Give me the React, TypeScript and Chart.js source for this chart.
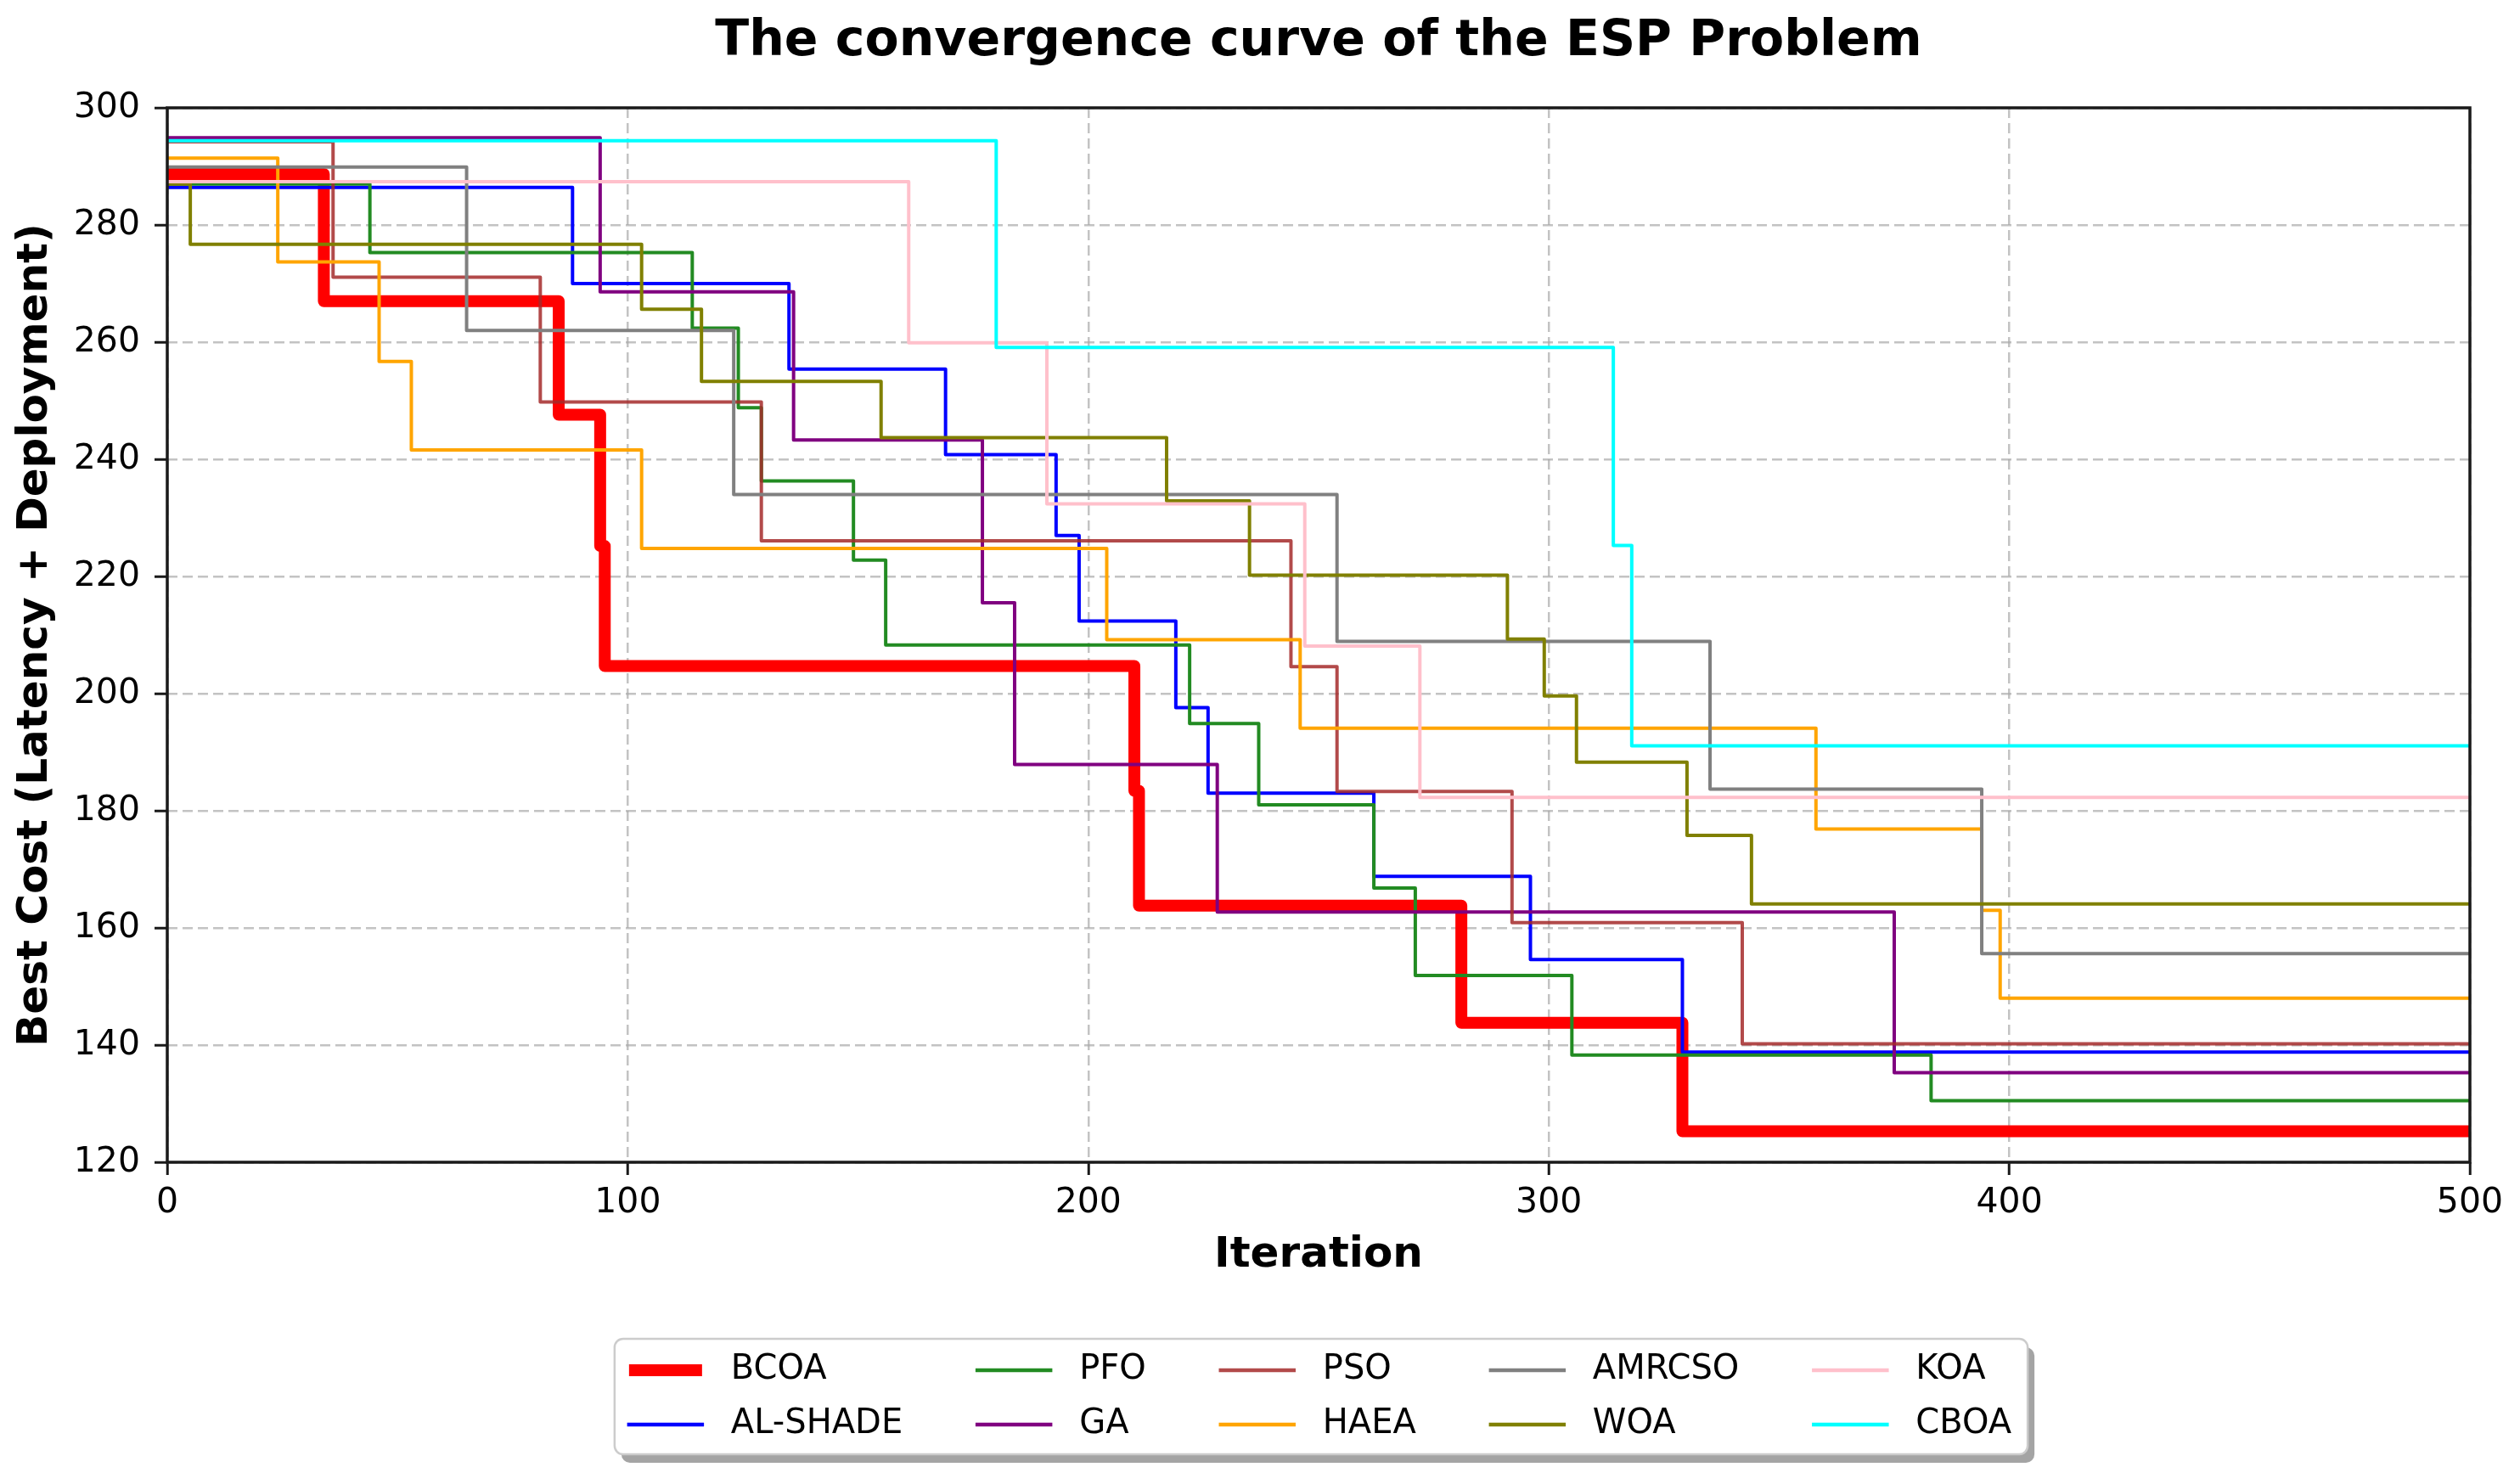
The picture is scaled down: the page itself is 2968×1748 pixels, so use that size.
import React, { useEffect, useRef } from "react";
import { Chart, registerables } from "chart.js";

Chart.register(...registerables);

const chartTitle = "The convergence curve of the ESP Problem";
const xTitle = "Iteration";
const yTitle = "Best Cost (Latency + Deployment)";

const algorithms = ["BCOA", "AL-SHADE", "PFO", "GA", "PSO", "HAEA", "AMRCSO", "WOA", "KOA", "CBOA"];
const colors = [
  "#ff0000",
  "#0000ff",
  "#228b22",
  "#800080",
  "rgba(165, 42, 42, 0.85)",
  "#ffa500",
  "#808080",
  "#808000",
  "#ffc0cb",
  "#00ffff",
];

// iterations where the best cost improves, and the cost reached there
const bcoaIter = [0, 34, 85, 94, 95, 210, 211, 281, 329, 500];
const bcoaCost = [288.7, 267.0, 247.6, 225.2, 204.7, 183.4, 163.8, 143.8, 125.3, 125.3];

const alshadeIter = [0, 88, 135, 169, 193, 198, 219, 226, 262, 296, 329, 500];
const alshadeCost = [286.4, 270.0, 255.4, 240.8, 227.0, 212.4, 197.6, 183.0, 168.8, 154.6, 138.8, 138.8];

const pfoIter = [0, 44, 114, 124, 129, 149, 156, 222, 237, 262, 271, 305, 383, 500];
const pfoCost = [287.0, 275.3, 262.4, 248.8, 236.3, 222.8, 208.3, 194.9, 181.0, 166.8, 151.9, 138.3, 130.5, 130.5];

const gaIter = [0, 94, 136, 177, 184, 228, 375, 500];
const gaCost = [294.9, 268.6, 243.3, 215.5, 187.9, 162.7, 135.3, 135.3];

const psoIter = [0, 36, 81, 129, 244, 254, 292, 342, 500];
const psoCost = [294.2, 271.1, 249.8, 226.1, 204.6, 183.3, 160.9, 140.2, 140.2];

const haeaIter = [0, 24, 46, 53, 103, 204, 246, 358, 394, 398, 500];
const haeaCost = [291.4, 273.7, 256.7, 241.6, 224.8, 209.2, 194.1, 176.9, 163.0, 148.0, 148.0];

const amrcsoIter = [0, 65, 123, 254, 335, 394, 500];
const amrcsoCost = [289.9, 262.0, 234.0, 208.9, 183.7, 155.6, 155.6];

const woaIter = [0, 5, 103, 116, 155, 217, 235, 291, 299, 306, 330, 344, 500];
const woaCost = [287.0, 276.7, 265.6, 253.3, 243.7, 232.9, 220.2, 209.3, 199.6, 188.3, 175.8, 164.1, 164.1];

const koaIter = [0, 161, 191, 247, 272, 500];
const koaCost = [287.4, 259.9, 232.4, 208.1, 182.3, 182.3];

const cboaIter = [0, 180, 314, 318, 500];
const cboaCost = [294.4, 259.1, 225.3, 191.1, 191.1];

const seriesIter = [bcoaIter, alshadeIter, pfoIter, gaIter, psoIter, haeaIter, amrcsoIter, woaIter, koaIter, cboaIter];
const seriesCost = [bcoaCost, alshadeCost, pfoCost, gaCost, psoCost, haeaCost, amrcsoCost, woaCost, koaCost, cboaCost];

const xMin = 0;
const xMax = 500;
const xStep = 100;
const yMin = 120;
const yMax = 300;
const yStep = 20;

const FONT = "'DejaVu Sans', sans-serif";

// title, four spines and the matplotlib-like legend (column-major, 5 columns)
const decorPlugin = {
  id: "decor",
  afterDraw(chart: Chart) {
    const { ctx, chartArea } = chart;
    const { left, right, top, bottom } = chartArea;
    const cx = (left + right) / 2;

    ctx.save();
    ctx.strokeStyle = "#1a1a1a";
    ctx.lineWidth = 3.5;
    ctx.setLineDash([]);
    ctx.strokeRect(left, top, right - left, bottom - top);

    ctx.fillStyle = "#000";
    ctx.font = `bold 58.5px ${FONT}`;
    ctx.textAlign = "center";
    ctx.textBaseline = "alphabetic";
    ctx.fillText(chartTitle, cx, 65);

    ctx.font = `40px ${FONT}`;
    const nCols = 5;
    const handleLen = 86;
    const textPad = 34;
    const colGap = 88;
    const padL = 17;
    const padR = 19;
    const colW: number[] = [];
    for (let c = 0; c < nCols; c++) {
      const a = ctx.measureText(algorithms[c * 2]).width;
      const b = ctx.measureText(algorithms[c * 2 + 1]).width;
      colW.push(Math.max(a, b));
    }
    let contentW = colGap * (nCols - 1);
    colW.forEach((w) => (contentW += handleLen + textPad + w));
    const boxW = padL + contentW + padR;
    const boxH = 136;
    const boxX = cx + 3 - boxW / 2;
    const boxY = 1577;

    ctx.fillStyle = "rgba(90, 90, 90, 0.55)";
    ctx.beginPath();
    ctx.roundRect(boxX + 8, boxY + 10, boxW, boxH, 10);
    ctx.fill();
    ctx.fillStyle = "#fff";
    ctx.strokeStyle = "#cccccc";
    ctx.lineWidth = 2.5;
    ctx.beginPath();
    ctx.roundRect(boxX, boxY, boxW, boxH, 10);
    ctx.fill();
    ctx.stroke();

    const rowY = [boxY + 37, boxY + 101];
    let hx = boxX + padL;
    for (let c = 0; c < nCols; c++) {
      for (let r = 0; r < 2; r++) {
        const i = c * 2 + r;
        ctx.strokeStyle = colors[i];
        ctx.lineWidth = i === 0 ? 14 : 4.5;
        ctx.lineCap = "square";
        ctx.beginPath();
        ctx.moveTo(hx + (i === 0 ? 7 : 0), rowY[r]);
        ctx.lineTo(hx + handleLen - (i === 0 ? 7 : 0), rowY[r]);
        ctx.stroke();
        ctx.fillStyle = "#000";
        ctx.textAlign = "left";
        ctx.textBaseline = "middle";
        ctx.fillText(algorithms[i], hx + handleLen + textPad, rowY[r]);
      }
      hx += handleLen + textPad + colW[c] + colGap;
    }
    ctx.restore();
  },
};

const App = () => {
  const canvasRef = useRef<HTMLCanvasElement>(null);
  const chartRef = useRef<Chart | null>(null);

  useEffect(() => {
    if (!canvasRef.current) return;
    if (chartRef.current) chartRef.current.destroy();

    const datasets = algorithms.map((name, i) => ({
      label: name,
      data: seriesIter[i].map((x, k) => ({ x, y: seriesCost[i][k] })),
      borderColor: colors[i],
      backgroundColor: colors[i],
      borderWidth: i === 0 ? 14 : 4,
      stepped: "before" as const,
      pointRadius: 0,
      fill: false,
      borderJoinStyle: "round" as const,
      order: algorithms.length - i,
    }));

    chartRef.current = new Chart(canvasRef.current, {
      type: "line",
      data: { datasets },
      plugins: [decorPlugin],
      options: {
        responsive: false,
        animation: false,
        layout: { padding: { top: 127, right: 59, left: 0, bottom: 0 } },
        plugins: {
          legend: { display: false },
          title: { display: false },
          tooltip: { enabled: false },
        },
        scales: {
          x: {
            type: "linear",
            min: xMin,
            max: xMax,
            ticks: { stepSize: xStep, color: "#000", font: { family: FONT, size: 41 }, padding: 9 },
            grid: {
              color: "rgba(170, 170, 170, 0.7)",
              lineWidth: 2.5,
              tickColor: "#1a1a1a",
              tickLength: 15,
              tickWidth: 3,
            },
            border: { display: false, dash: [12, 6] },
            title: {
              display: true,
              text: xTitle,
              color: "#000",
              font: { family: FONT, size: 50, weight: "bold", lineHeight: 1.2 },
              padding: { top: 0, bottom: 239 },
            },
            afterFit: (s: any) => {
              s.height = 379;
            },
          },
          y: {
            type: "linear",
            min: yMin,
            max: yMax,
            ticks: { stepSize: yStep, color: "#000", font: { family: FONT, size: 41 }, padding: 17 },
            grid: {
              color: "rgba(170, 170, 170, 0.7)",
              lineWidth: 2.5,
              tickColor: "#1a1a1a",
              tickLength: 15,
              tickWidth: 3,
            },
            border: { display: false, dash: [12, 6] },
            title: {
              display: true,
              text: yTitle,
              color: "#000",
              font: { family: FONT, size: 50, weight: "bold", lineHeight: 1.2 },
              padding: { top: 12, bottom: 0 },
            },
            afterFit: (s: any) => {
              s.width = 197;
            },
          },
        },
      },
    });

    return () => {
      if (chartRef.current) {
        chartRef.current.destroy();
        chartRef.current = null;
      }
    };
  }, []);

  return (
    <div style={{ position: "absolute", left: 0, top: 0, width: 2968, height: 1748, background: "#fff" }}>
      <canvas ref={canvasRef} width={2968} height={1748} style={{ width: 2968, height: 1748 }}></canvas>
    </div>
  );
};

export default App;
